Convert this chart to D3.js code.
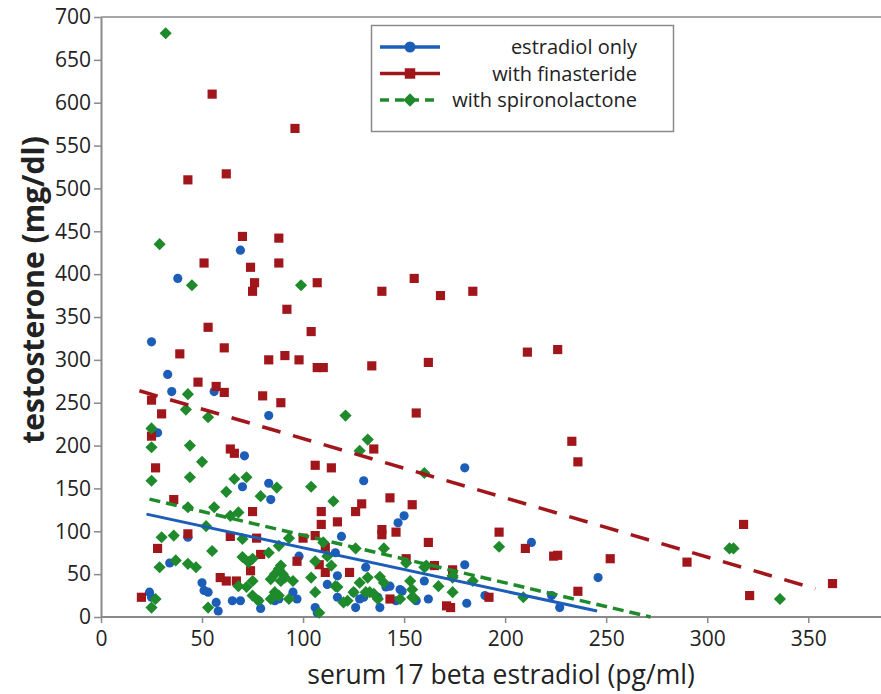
<!DOCTYPE html>
<html>
<head>
<meta charset="utf-8">
<script src="https://cdn.jsdelivr.net/npm/d3@7"></script>
<style>
	html, body { margin: 0; padding: 0; background: #fff; }
	svg { display: block; font-family: "Open Sans", "Noto Sans", sans-serif; }
</style>
</head>
<body>
<div id="chart"></div>
<script>
'use strict';

// values: [estradiol pg/ml, testosterone mg/dl]
var estradiolOnly = [
	[69, 428], [38, 395], [25, 321], [33, 283], [35, 263], [56, 263], [180, 174], [213, 87],
	[180, 61], [181, 16], [246, 46], [190, 25], [223, 25], [227, 11], [130, 159], [150, 118],
	[147, 110], [119, 94], [116, 75], [98, 71], [160, 42], [162, 21], [143, 36], [148, 32],
	[146, 19], [131, 58], [128, 21], [126, 11], [137, 23], [138, 11], [117, 48], [112, 38],
	[117, 23], [106, 11], [95, 29], [97, 21], [28, 215], [71, 188], [83, 235], [70, 152],
	[83, 156], [84, 137], [34, 63], [50, 40], [51, 31], [53, 29], [57, 17], [58, 7],
	[65, 19], [69, 19], [78, 19], [79, 10], [86, 19], [24, 29], [25, 23], [88, 21],
	[107, 5], [125, 29], [130, 23], [141, 35], [149, 30], [156, 19], [43, 93]
];

var withFinasteride = [
	[55, 610], [96, 570], [43, 510], [62, 517], [70, 444], [88, 442], [51, 413], [74, 408],
	[88, 413], [76, 390], [75, 380], [92, 359], [53, 338], [61, 314], [39, 307], [83, 300],
	[91, 305], [48, 274], [57, 269], [61, 262], [80, 258], [25, 253], [107, 390], [139, 380],
	[155, 395], [168, 375], [184, 380], [104, 333], [98, 300], [107, 291], [110, 291], [134, 293],
	[162, 297], [211, 309], [226, 312], [233, 205], [236, 181], [197, 99], [210, 80], [224, 71],
	[226, 72], [252, 68], [290, 64], [318, 108], [321, 25], [362, 39], [192, 23], [236, 30],
	[89, 250], [156, 238], [135, 196], [106, 177], [114, 174], [143, 139], [129, 132], [126, 123],
	[154, 131], [109, 123], [109, 108], [117, 111], [139, 102], [139, 96], [146, 99], [162, 87],
	[100, 92], [106, 95], [111, 81], [97, 65], [108, 61], [111, 52], [151, 68], [165, 60],
	[174, 55], [171, 13], [173, 11], [143, 21], [123, 52], [30, 237], [25, 211], [64, 196],
	[66, 191], [27, 174], [36, 137], [75, 123], [43, 97], [64, 94], [77, 92], [28, 80],
	[79, 73], [74, 54], [59, 46], [62, 42], [67, 42], [20, 23]
];

var withSpironolactone = [
	[32, 681], [29, 435], [45, 387], [43, 260], [99, 387], [197, 82], [311, 80], [313, 80],
	[336, 21], [209, 23], [174, 46], [174, 29], [121, 235], [132, 207], [128, 194], [160, 168],
	[104, 152], [115, 135], [93, 92], [110, 87], [126, 80], [140, 80], [106, 65], [112, 71],
	[114, 60], [151, 63], [160, 58], [161, 60], [174, 48], [184, 42], [153, 42], [154, 32],
	[155, 22], [148, 21], [138, 47], [132, 46], [140, 40], [133, 29], [135, 27], [137, 21],
	[125, 29], [128, 40], [122, 19], [116, 36], [106, 29], [108, 5], [93, 21], [91, 46],
	[95, 42], [89, 60], [90, 50], [104, 46], [88, 83], [42, 242], [53, 233], [25, 220],
	[25, 198], [44, 200], [50, 181], [25, 159], [44, 163], [66, 161], [72, 163], [87, 151],
	[62, 146], [79, 141], [43, 128], [56, 128], [64, 118], [68, 122], [52, 106], [30, 93],
	[36, 95], [70, 91], [55, 77], [70, 70], [75, 68], [73, 64], [83, 75], [29, 58],
	[37, 66], [43, 62], [47, 58], [88, 56], [84, 44], [89, 42], [86, 50], [68, 36],
	[72, 35], [75, 42], [53, 11], [84, 21], [88, 25], [75, 25], [27, 21], [25, 11],
	[78, 19], [86, 29], [167, 36], [154, 23], [131, 29], [120, 17], [117, 35]
];

// fitted lines, end points
var trendEstradiol = [[22.5, 120], [245.5, 7]];
var trendFinasteride = [[19, 264], [353.5, 33]];
var trendSpironolactone = [[24, 137.5], [272, 0]];

var xTicks = [0, 50, 100, 150, 200, 250, 300, 350];
var yTicks = [0, 50, 100, 150, 200, 250, 300, 350, 400, 450, 500, 550, 600, 650, 700];
var seriesNames = ['estradiol only', 'with finasteride', 'with spironolactone'];

var W = 881, H = 694,
	margin = { top: 17, right: 0, bottom: 76, left: 101 };

var BLUE = '#1c5db8', RED = '#a1161b', GREEN = '#1f8a2b', AXIS = '#8a8a8a';

var x = d3.scaleLinear().domain([0, 386]).range([margin.left, W - margin.right]);
var y = d3.scaleLinear().domain([0, 700]).range([H - margin.bottom - 1, margin.top]);

var svg = d3.select('#chart').append('svg')
	.attr('width', W)
	.attr('height', H);

// top border
svg.append('line')
	.attr('x1', x(0)).attr('x2', W)
	.attr('y1', y(700)).attr('y2', y(700))
	.attr('stroke', AXIS).attr('stroke-width', 1.5);

var xAxis = svg.append('g')
	.attr('transform', 'translate(0,' + y(0) + ')')
	.call(d3.axisBottom(x).tickValues(xTicks).tickSize(6).tickPadding(8).tickSizeOuter(0));

var yAxis = svg.append('g')
	.attr('transform', 'translate(' + x(0) + ',0)')
	.call(d3.axisLeft(y).tickValues(yTicks).tickSize(7).tickPadding(3).tickSizeOuter(0));

[xAxis, yAxis].forEach(function (g) {
	g.select('.domain').attr('stroke', AXIS).attr('stroke-width', 2);
	g.selectAll('.tick line').attr('stroke', AXIS).attr('stroke-width', 1.5);
	g.selectAll('.tick text')
		.attr('fill', '#222')
		.style('font-size', '21px')
		.style('font-family', '"Open Sans", sans-serif');
});
// bottom axis runs to the edge
xAxis.select('.domain').attr('d', 'M' + x(0) + ',0H' + W);

// axis titles
svg.append('text')
	.attr('x', 501).attr('y', 684)
	.attr('text-anchor', 'middle')
	.attr('fill', '#222')
	.style('font-size', '26.5px')
	.text('serum 17 beta estradiol (pg/ml)');

svg.append('text')
	.attr('transform', 'translate(44,290) rotate(-90)')
	.attr('text-anchor', 'middle')
	.attr('fill', '#222')
	.style('font-size', '30px')
	.style('font-weight', 'bold')
	.text('testosterone (mg/dl)');

// markers
var circle = d3.symbol().type(d3.symbolCircle).size(66),
	square = d3.symbol().type(d3.symbolSquare).size(84),
	diamond = d3.symbol().type(d3.symbolSquare).size(74);

function drawPoints(data, sym, color, rot) {
	svg.append('g').selectAll('path')
		.data(data)
		.enter().append('path')
		.attr('d', sym)
		.attr('transform', function (d) {
			return 'translate(' + x(d[0]) + ',' + y(d[1]) + ')' + (rot ? ' rotate(45)' : '');
		})
		.attr('fill', color);
}

drawPoints(estradiolOnly, circle, BLUE, false);
drawPoints(withFinasteride, square, RED, false);
drawPoints(withSpironolactone, diamond, GREEN, true);

// fitted lines
var line = d3.line()
	.x(function (d) { return x(d[0]); })
	.y(function (d) { return y(d[1]); });

svg.append('path').datum(trendFinasteride)
	.attr('d', line).attr('fill', 'none')
	.attr('stroke', RED).attr('stroke-width', 3.5).attr('stroke-dasharray', '19,13');
svg.append('path').datum(trendSpironolactone)
	.attr('d', line).attr('fill', 'none')
	.attr('stroke', GREEN).attr('stroke-width', 3.5).attr('stroke-dasharray', '11,6');
svg.append('path').datum(trendEstradiol)
	.attr('d', line).attr('fill', 'none')
	.attr('stroke', BLUE).attr('stroke-width', 3);

// legend
var legend = svg.append('g');
legend.append('rect')
	.attr('x', 371.5).attr('y', 25.5)
	.attr('width', 302).attr('height', 106)
	.attr('fill', '#fff').attr('stroke', AXIS).attr('stroke-width', 1.5);

var legendRows = [
	{ color: BLUE, type: d3.symbolCircle, dash: null, rot: false, size: 95 },
	{ color: RED, type: d3.symbolSquare, dash: null, rot: false, size: 110 },
	{ color: GREEN, type: d3.symbolSquare, dash: '9,6', rot: true, size: 90 }
];

legendRows.forEach(function (r, i) {
	var cy = 47 + i * 26.5;
	legend.append('line')
		.attr('x1', 380).attr('x2', 440)
		.attr('y1', cy).attr('y2', cy)
		.attr('stroke', r.color).attr('stroke-width', 3.5)
		.attr('stroke-dasharray', r.dash);
	legend.append('path')
		.attr('d', d3.symbol().type(r.type).size(r.size))
		.attr('transform', 'translate(410,' + cy + ')' + (r.rot ? ' rotate(45)' : ''))
		.attr('fill', r.color);
	legend.append('text')
		.attr('x', 637).attr('y', cy + 7)
		.attr('text-anchor', 'end')
		.attr('fill', '#222')
		.style('font-size', '20px')
		.text(seriesNames[i]);
});
</script>
</body>
</html>
